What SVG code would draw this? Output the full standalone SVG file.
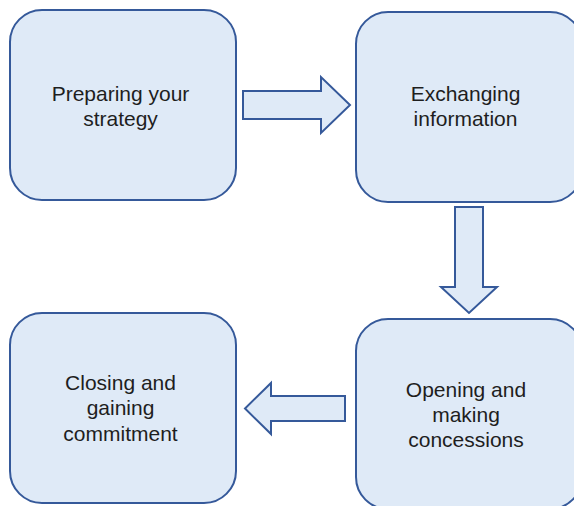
<svg xmlns="http://www.w3.org/2000/svg" width="574" height="506" viewBox="0 0 574 506">
  <style>
    .box { fill: #dfeaf7; stroke: #35599a; stroke-width: 2; }
    .arrow { fill: #dfeaf7; stroke: #35599a; stroke-width: 2; stroke-linejoin: miter; }
    .lbl { font-family: "Liberation Sans", Arial, sans-serif; font-size: 21px; fill: #1e1e1e; text-anchor: middle; }
  </style>
  <rect width="574" height="506" fill="#ffffff"/>
  <g id="node-preparing">
    <rect class="box" x="10" y="10" width="226" height="190" rx="32" ry="32"/>
    <text class="lbl" x="120.5" y="100.5">Preparing your</text>
    <text class="lbl" x="120.5" y="125.5">strategy</text>
  </g>
  <g id="node-exchanging">
    <rect class="box" x="356" y="12" width="226" height="190" rx="32" ry="32"/>
    <text class="lbl" x="465.5" y="100.5">Exchanging</text>
    <text class="lbl" x="465.5" y="125.5">information</text>
  </g>
  <g id="node-opening">
    <rect class="box" x="356" y="319" width="226" height="190" rx="32" ry="32"/>
    <text class="lbl" x="466" y="396.5">Opening and</text>
    <text class="lbl" x="466" y="421.5">making</text>
    <text class="lbl" x="466" y="446.5">concessions</text>
  </g>
  <g id="node-closing">
    <rect class="box" x="10" y="313" width="226" height="190" rx="32" ry="32"/>
    <text class="lbl" x="120.5" y="390">Closing and</text>
    <text class="lbl" x="120.5" y="415">gaining</text>
    <text class="lbl" x="120.5" y="440.5">commitment</text>
  </g>
  <g id="connectors">
    <polygon class="arrow" points="243,91 321,91 321,77 350,105 321,133 321,119 243,119"/>
    <polygon class="arrow" points="455,207 483,207 483,287 497,287 469,313 441,287 455,287"/>
    <polygon class="arrow" points="345,396 271,396 271,383 245,408.5 271,434 271,421 345,421"/>
  </g>
</svg>
